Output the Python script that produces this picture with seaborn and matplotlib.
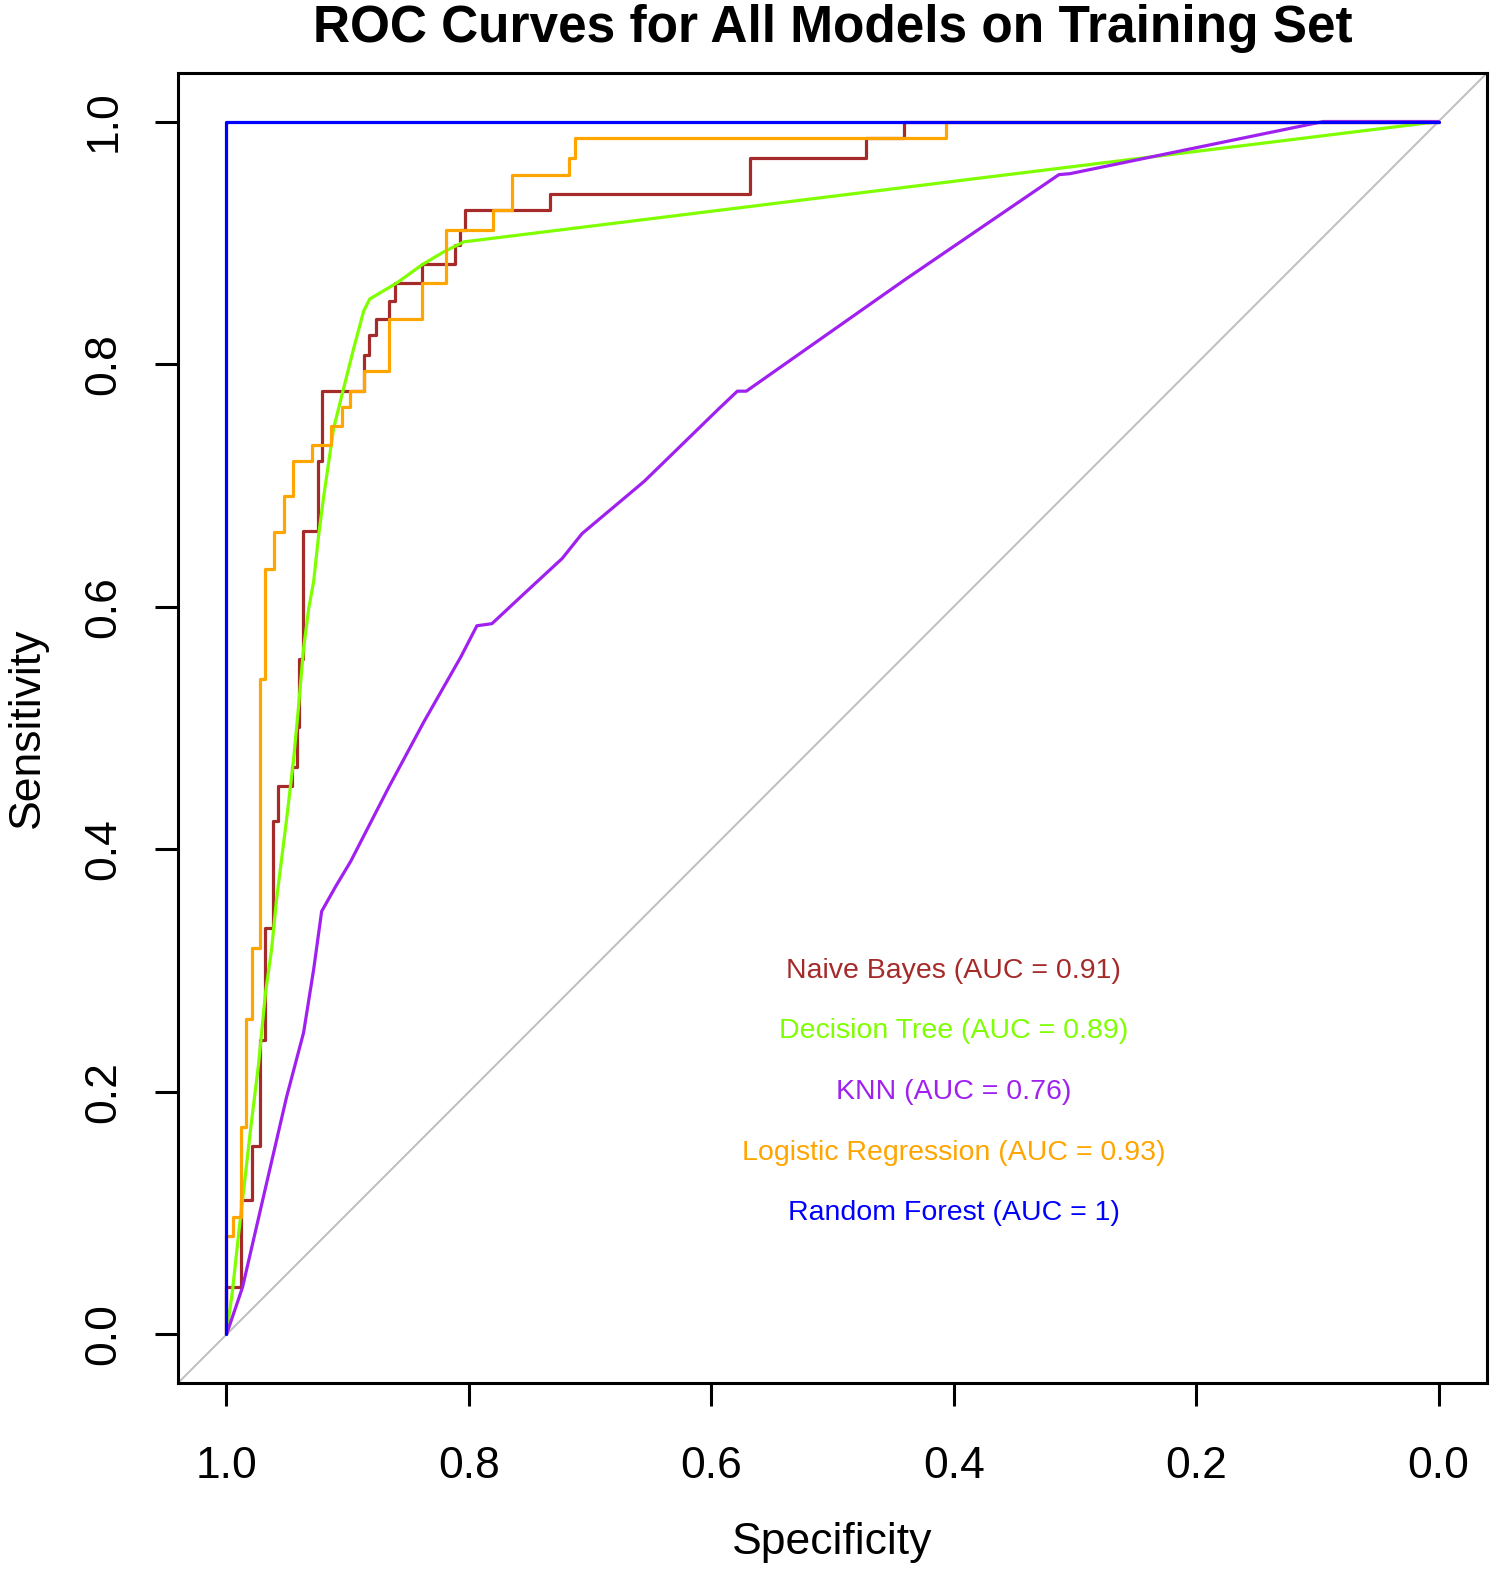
import matplotlib
matplotlib.use("Agg")
import matplotlib.pyplot as plt
import pandas as pd
import seaborn as sns

# ROC points (specificity, sensitivity)
nb_spec = [1.0, 1.0, 0.9884, 0.9793, 0.9723, 0.9683, 0.9616, 0.9573, 0.9457, 0.9421,
           0.9402, 0.9366, 0.9248, 0.9209, 0.8865, 0.8821, 0.8769, 0.8661, 0.8609,
           0.8388, 0.8118, 0.8077, 0.8031, 0.7331, 0.5678, 0.4727, 0.4413, 0.0]
nb_sens = [0.0, 0.0388, 0.1107, 0.1554, 0.2430, 0.3355, 0.4231, 0.4521, 0.4678, 0.5008,
           0.5570, 0.6620, 0.7198, 0.7777, 0.8074, 0.8240, 0.8372, 0.8521, 0.8669,
           0.8826, 0.8983, 0.9107, 0.9273, 0.9405, 0.9702, 0.9860, 1.0, 1.0]

dt_spec = [1.0, 0.9950, 0.9901, 0.9868, 0.9802, 0.9736, 0.9678, 0.9628, 0.9587, 0.9504,
           0.9446, 0.9405, 0.9364, 0.9322, 0.9281, 0.9240, 0.9198, 0.9116, 0.9033,
           0.8950, 0.8868, 0.8818, 0.8595, 0.8388, 0.8207, 0.8041, 0.3620, 0.0]
dt_sens = [0.0, 0.0364, 0.0818, 0.1107, 0.1686, 0.2223, 0.2818, 0.3174, 0.3587, 0.4248,
           0.4744, 0.5182, 0.5653, 0.5983, 0.6207, 0.6587, 0.6909, 0.7471, 0.7802,
           0.8132, 0.8438, 0.8537, 0.8669, 0.8818, 0.8926, 0.9008, 0.9554, 1.0]

knn_spec = [1.0, 0.9868, 0.9669, 0.9504, 0.9364, 0.9281, 0.9215, 0.9099, 0.8975, 0.8661,
            0.8372, 0.8066, 0.7934, 0.7810, 0.7545, 0.7231, 0.7066, 0.6554, 0.5934,
            0.5785, 0.5711, 0.4401, 0.3132, 0.3041, 0.0950, 0.0]
knn_sens = [0.0, 0.0388, 0.1248, 0.1959, 0.2488, 0.3008, 0.3488, 0.3694, 0.3901, 0.4512,
            0.5050, 0.5587, 0.5843, 0.5860, 0.6107, 0.6397, 0.6603, 0.7033, 0.7636,
            0.7777, 0.7777, 0.8697, 0.9562, 0.9570, 1.0, 1.0]

lr_spec = [1.0, 1.0, 0.9950, 0.9884, 0.9843, 0.9793, 0.9727, 0.9686, 0.9612, 0.9529,
           0.9455, 0.9298, 0.9140, 0.9050, 0.8983, 0.8868, 0.8661, 0.8388, 0.8190,
           0.7802, 0.7645, 0.7174, 0.7124, 0.4066, 0.0]
lr_sens = [0.0, 0.0810, 0.0967, 0.1711, 0.2603, 0.3190, 0.5405, 0.6314, 0.6612, 0.6909,
           0.7198, 0.7331, 0.7488, 0.7645, 0.7777, 0.7942, 0.8372, 0.8669, 0.9107,
           0.9273, 0.9562, 0.9702, 0.9860, 1.0, 1.0]

rf_spec = [1.0, 1.0, 0.0]
rf_sens = [0.0, 1.0, 1.0]

labels = ["Naive Bayes (AUC = 0.91)", "Decision Tree (AUC = 0.89)", "KNN (AUC = 0.76)",
          "Logistic Regression (AUC = 0.93)", "Random Forest (AUC = 1)"]
colors = ["#A52A2A", "#7FFF00", "#A020F0", "#FFA500", "#0000FF"]
steps = [True, False, False, True, True]
curves = [(nb_spec, nb_sens), (dt_spec, dt_sens), (knn_spec, knn_sens),
          (lr_spec, lr_sens), (rf_spec, rf_sens)]

sns.set_theme(style="white")
plt.rcParams["font.family"] = ["Liberation Sans", "DejaVu Sans"]

fig = plt.figure(figsize=(15, 15.77), dpi=100)
ax = fig.add_axes([0.11867, 0.12302, 0.87267, 0.83069])

# chance line
ax.axline((1, 0), slope=-1, color="#BEBEBE", lw=1.4, zorder=1)

for (sp, se), col, st in zip(curves, colors, steps):
    df = pd.DataFrame({"spec": sp, "sens": se})
    kw = {"drawstyle": "steps-post"} if st else {}
    sns.lineplot(data=df, x="spec", y="sens", sort=False, estimator=None,
                 color=col, lw=2.3, ax=ax, **kw)

for i, (lab, col) in enumerate(zip(labels, colors)):
    ax.text(0.4, 0.3 - 0.05 * i, lab, color=col, ha="center", va="center", fontsize=20.5)

ax.set_xlim(1.04, -0.04)
ax.set_ylim(-0.04, 1.04)
ticks = [0.0, 0.2, 0.4, 0.6, 0.8, 1.0]
ax.set_xticks(ticks)
ax.set_yticks(ticks)
ax.set_xticklabels([f"{t:.1f}" for t in ticks])
ax.set_yticklabels([f"{t:.1f}" for t in ticks], rotation=90, va="center")
ax.tick_params(axis="both", which="both", direction="out", length=16.5, width=2.2,
               labelsize=32, color="black", labelcolor="black")
ax.tick_params(axis="x", pad=29, bottom=True)
ax.tick_params(axis="y", pad=22, left=True)
for s in ax.spines.values():
    s.set_color("black")
    s.set_linewidth(2.2)

ax.set_xlabel("Specificity", fontsize=32, color="black")
ax.set_ylabel("Sensitivity", fontsize=32, color="black")
ax.xaxis.set_label_coords(0.5, -0.122)
ax.xaxis.label.set_va("center")
ax.yaxis.set_label_coords(-0.1154, 0.5)
ax.yaxis.label.set_va("center")
ax.set_title("ROC Curves for All Models on Training Set", fontsize=37,
             fontweight="bold", y=1.0237, pad=0, va="baseline", color="black")
ax.grid(False)

fig.savefig("out.png", dpi=100, facecolor="white")
